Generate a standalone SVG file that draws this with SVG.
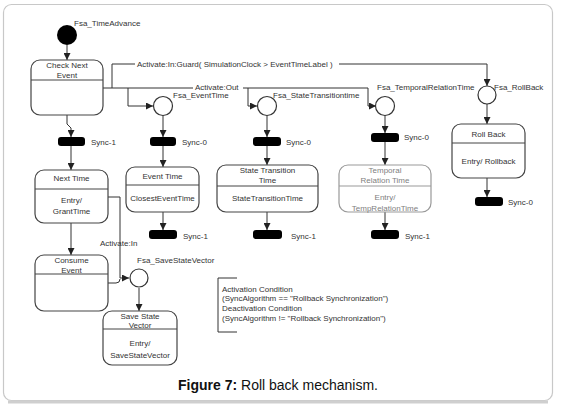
<svg xmlns="http://www.w3.org/2000/svg" width="561" height="405" viewBox="0 0 561 405">
<defs>
<marker id="ah" viewBox="0 0 8 8" refX="8" refY="4" markerWidth="7" markerHeight="7" markerUnits="userSpaceOnUse" orient="auto">
<path d="M0,0 L8,4 L0,8 z" fill="#222"/>
</marker>
</defs>
<style>
.t{font-family:"Liberation Sans",Arial,sans-serif;font-size:8px;fill:#333}
.m{text-anchor:middle}
.g{fill:#808080}
.box{fill:#fff;stroke:#444;stroke-width:1.2}
.gbox{fill:#fff;stroke:#999;stroke-width:1.2}
.div{stroke:#444;stroke-width:1}
.gdiv{stroke:#999;stroke-width:1}
.ln{fill:none;stroke:#333;stroke-width:1}
.ar{fill:none;stroke:#333;stroke-width:1;marker-end:url(#ah)}
.bar{fill:#000}
.circ{fill:#fff;stroke:#333;stroke-width:1.2}
.cap{font-family:"Liberation Sans",Arial,sans-serif;font-size:14px;fill:#111}
</style>
<rect x="0" y="0" width="561" height="405" fill="#fff"/>
<rect x="3.5" y="4.5" width="549" height="396" rx="8" fill="#fff" stroke="#c8c8c8" stroke-width="1.2"/>
<line x1="8" y1="402" x2="548" y2="402" stroke="#cfcfcf" stroke-width="3"/>

<g id="connectors">
<path class="ar" d="M67,45 V60"/>
<path class="ln" d="M103,88 H193"/>
<path class="ln" d="M243,88 H368 V106"/>
<path class="ar" d="M368,106 H376"/>
<path class="ln" d="M112,88 V64 H135"/>
<path class="ln" d="M339,64 H487"/>
<path class="ar" d="M487,64 V86"/>
<path class="ar" d="M128,88 V106 H153"/>
<path class="ar" d="M248,88 V106 H257"/>
<path class="ar" d="M67,115 V124 L71,128 V137"/>
<path class="ar" d="M163,115 V137"/>
<path class="ar" d="M267,115 V137"/>
<path class="ar" d="M385,115 V133"/>
<path class="ar" d="M487,104 V124"/>
<path class="ar" d="M163,146 V167"/>
<path class="ar" d="M267,146 V165"/>
<path class="ar" d="M385,142 V165"/>
<path class="ar" d="M71,146 V170"/>
<path class="ar" d="M163,212 V230"/>
<path class="ar" d="M267,212 V230"/>
<path class="ar" d="M385,212 V230"/>
<path class="ar" d="M487,178 V197"/>
<path class="ar" d="M71,223 V255"/>
<path class="ar" d="M108,197 H120 V278 H129"/>
<path class="ln" d="M108,283 H116 Q120,283 120,279"/>
<path class="ar" d="M139,288 V311"/>
<text class="t" x="137" y="67">Activate:In:Guard( SimulationClock &gt; EventTimeLabel )</text>
<text class="t" x="195" y="90">Activate:Out</text>
<text class="t" x="100" y="246">Activate:In</text>
</g>

<g id="fsa_timeadvance">
<circle cx="67" cy="35" r="10" fill="#000"/>
<text class="t" x="74" y="26">Fsa_TimeAdvance</text>
</g>

<g id="check_next_event">
<rect class="box" x="31" y="60" width="72" height="55" rx="9"/>
<line class="div" x1="31" y1="80" x2="103" y2="80"/>
<text class="t m" x="67" y="68">Check Next</text>
<text class="t m" x="67" y="78">Event</text>
</g>

<g id="fsa_eventtime">
<circle class="circ" cx="163" cy="106" r="9.5"/>
<text class="t" x="173" y="98">Fsa_EventTime</text>
</g>
<g id="fsa_statetransitiontime">
<circle class="circ" cx="267" cy="106" r="9.5"/>
<text class="t" x="273" y="98">Fsa_StateTransitiontime</text>
</g>
<g id="fsa_temporalrelationtime">
<circle class="circ" cx="385" cy="106" r="9.5"/>
<text class="t" x="377" y="90">Fsa_TemporalRelationTime</text>
</g>
<g id="fsa_rollback">
<circle class="circ" cx="487" cy="95" r="9"/>
<text class="t" x="494" y="90">Fsa_RollBack</text>
</g>

<g id="sync1_left">
<rect class="bar" x="58" y="137" width="27" height="9" rx="3"/>
<text class="t" x="91" y="145">Sync-1</text>
</g>
<g id="sync0_eventtime">
<rect class="bar" x="150" y="137" width="26" height="9" rx="3"/>
<text class="t" x="182" y="145">Sync-0</text>
</g>
<g id="sync0_statetransition">
<rect class="bar" x="253" y="137" width="28" height="9" rx="3"/>
<text class="t" x="286" y="145">Sync-0</text>
</g>
<g id="sync0_temporal">
<rect class="bar" x="371" y="133" width="28" height="9" rx="3"/>
<text class="t" x="404" y="140">Sync-0</text>
</g>

<g id="next_time">
<rect class="box" x="35" y="170" width="73" height="53" rx="9"/>
<line class="div" x1="35" y1="189" x2="108" y2="189"/>
<text class="t m" x="71.5" y="181">Next Time</text>
<text class="t m" x="71.5" y="203">Entry/</text>
<text class="t m" x="71.5" y="214">GrantTime</text>
</g>

<g id="event_time">
<rect class="box" x="126" y="167" width="73" height="45" rx="9"/>
<line class="div" x1="126" y1="185" x2="199" y2="185"/>
<text class="t m" x="162.5" y="179">Event Time</text>
<text class="t m" x="162.5" y="201">ClosestEventTime</text>
</g>

<g id="state_transition_time">
<rect class="box" x="217" y="165" width="101" height="47" rx="9"/>
<line class="div" x1="217" y1="186" x2="318" y2="186"/>
<text class="t m" x="267.5" y="173">State Transition</text>
<text class="t m" x="267.5" y="183">Time</text>
<text class="t m" x="267.5" y="201">StateTransitionTime</text>
</g>

<g id="temporal_relation_time">
<rect class="gbox" x="339" y="165" width="92" height="47" rx="9"/>
<line class="gdiv" x1="339" y1="186" x2="431" y2="186"/>
<text class="t m g" x="385" y="173">Temporal</text>
<text class="t m g" x="385" y="183">Relation Time</text>
<text class="t m g" x="385" y="200">Entry/</text>
<text class="t m g" x="385" y="211">TempRelationTime</text>
</g>

<g id="roll_back">
<rect class="box" x="452" y="124" width="73" height="54" rx="9"/>
<line class="div" x1="452" y1="143" x2="525" y2="143"/>
<text class="t m" x="488.5" y="137">Roll Back</text>
<text class="t m" x="488.5" y="164">Entry/ Rollback</text>
</g>

<g id="sync1_eventtime">
<rect class="bar" x="149" y="230" width="28" height="9" rx="3"/>
<text class="t" x="183" y="239">Sync-1</text>
</g>
<g id="sync1_statetransition">
<rect class="bar" x="253" y="230" width="29" height="9" rx="3"/>
<text class="t" x="291" y="239">Sync-1</text>
</g>
<g id="sync1_temporal">
<rect class="bar" x="371" y="230" width="28" height="9" rx="3"/>
<text class="t" x="405" y="239">Sync-1</text>
</g>
<g id="sync0_rollback">
<rect class="bar" x="475" y="197" width="28" height="9" rx="3"/>
<text class="t" x="508" y="205">Sync-0</text>
</g>

<g id="consume_event">
<rect class="box" x="35" y="255" width="73" height="56" rx="9"/>
<line class="div" x1="35" y1="274" x2="108" y2="274"/>
<text class="t m" x="71.5" y="263">Consume</text>
<text class="t m" x="71.5" y="273">Event</text>
</g>

<g id="fsa_savestatevector">
<circle class="circ" cx="139" cy="278" r="9"/>
<text class="t" x="137" y="263">Fsa_SaveStateVector</text>
</g>

<g id="save_state_vector">
<rect class="box" x="103" y="311" width="74" height="54" rx="9"/>
<line class="div" x1="103" y1="329" x2="177" y2="329"/>
<text class="t m" x="140" y="319">Save State</text>
<text class="t m" x="140" y="328">Vector</text>
<text class="t m" x="140" y="346">Entry/</text>
<text class="t m" x="140" y="358">SaveStateVector</text>
</g>

<g id="annotation">
<path class="ln" d="M237,278 H218 V332 H237" stroke="#555"/>
<text class="t" x="222" y="292">Activation Condition</text>
<text class="t" x="222" y="301">(SyncAlgorithm == "Rollback Synchronization")</text>
<text class="t" x="222" y="311">Deactivation Condition</text>
<text class="t" x="222" y="321">(SyncAlgorithm != "Rollback Synchronization")</text>
</g>

<text class="cap" x="278" y="390" text-anchor="middle"><tspan font-weight="bold">Figure 7:</tspan> Roll back mechanism.</text>
</svg>
